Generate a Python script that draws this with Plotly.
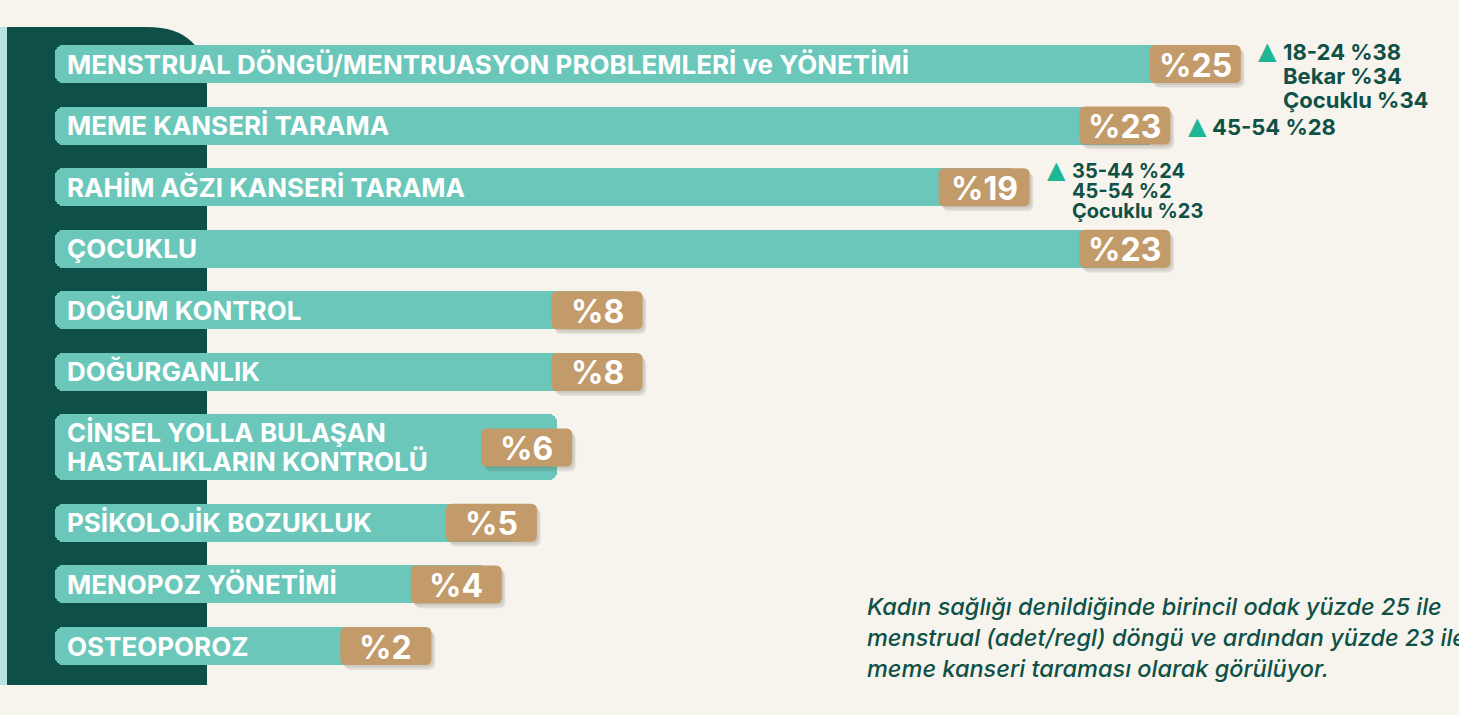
import plotly.graph_objects as go

# veriler
categories = ['MENSTRUAL DÖNGÜ/MENTRUASYON PROBLEMLERİ ve YÖNETİMİ', 'MEME KANSERİ TARAMA',
              'RAHİM AĞZI KANSERİ TARAMA', 'ÇOCUKLU', 'DOĞUM KONTROL', 'DOĞURGANLIK',
              'CİNSEL YOLLA BULAŞAN<br>HASTALIKLARIN KONTROLÜ', 'PSİKOLOJİK BOZUKLUK',
              'MENOPOZ YÖNETİMİ', 'OSTEOPOROZ']
values = [25, 23, 19, 23, 8, 8, 6, 5, 4, 2]

note_rows = [0, 1, 2]
note_lines = [['18-24 %38', 'Bekar %34', 'Çocuklu %34'],
              ['45-54 %28'],
              ['35-44 %24', '45-54 %2', 'Çocuklu %23']]

caption = ['Kadın sağlığı denildiğinde birincil odak yüzde 25 ile',
           'menstrual (adet/regl) döngü ve ardından yüzde 23 ile',
           'meme kanseri taraması olarak görülüyor.']

# stil
W, H = 1459, 715
BG = '#f7f4ee'
PANEL = '#0e5047'
STRIP = '#b7e0de'
BAR = '#6bc7b9'
BADGE = '#c39a6a'
DARK = '#0f5146'
TRI = '#1fb696'
FONT = 'Inter'

row_span = [1, 1, 1, 1, 1, 1, 1.45, 1, 1, 1]
bar_w = [1.07 if s > 1 else 0.615 for s in row_span]
BASE = -8.27

pos = [0.0]
for i in range(1, len(row_span)):
    pos.append(pos[-1] + (row_span[i - 1] + row_span[i]) / 2)


def rounded(x0, y0, x1, y1, r):
    return (f'M {x0 + r},{y0} L {x1 - r},{y0} Q {x1},{y0} {x1},{y0 + r} '
            f'L {x1},{y1 - r} Q {x1},{y1} {x1 - r},{y1} L {x0 + r},{y1} '
            f'Q {x0},{y1} {x0},{y1 - r} L {x0},{y0 + r} Q {x0},{y0} {x0 + r},{y0} Z')


fig = go.Figure()
fig.add_trace(go.Bar(
    y=pos, x=[v - BASE for v in values], base=BASE, orientation='h',
    width=bar_w, marker=dict(color=BAR, cornerradius=8, line_width=0),
    textposition='none', hoverinfo='skip', showlegend=False))

shapes = []
# sol şerit ve koyu yeşil panel
shapes.append(dict(type='rect', xref='paper', yref='paper', x0=0, x1=7 / W,
                   y0=1 - 685 / H, y1=1 - 27 / H, fillcolor=STRIP, line_width=0, layer='below'))
r = 60
panel_path = (f'M 7,-685 L 7,-27 L {207 - r},-27 Q 207,-27 207,{-27 - r} L 207,-685 Z')
shapes.append(dict(type='path', xref='paper', yref='paper', xsizemode='pixel', ysizemode='pixel',
                   xanchor=0, yanchor=1, path=panel_path, fillcolor=PANEL, line_width=0,
                   layer='below'))

annotations = []
for i, (cat, v) in enumerate(zip(categories, values)):
    # yüzde rozeti + yumuşak gölge
    for dx, dy, a in [(4, -5, 0.07), (3, -4, 0.08), (2, -2, 0.08)]:
        shapes.append(dict(type='path', xref='x', yref='y', xsizemode='pixel', ysizemode='pixel',
                           xanchor=v, yanchor=pos[i],
                           path=rounded(-76 + dx, -19 + dy, 15 + dx, 19 + dy, 7),
                           fillcolor=f'rgba(60,50,40,{a})', line_width=0, layer='above'))
    shapes.append(dict(type='path', xref='x', yref='y', xsizemode='pixel', ysizemode='pixel',
                       xanchor=v, yanchor=pos[i], path=rounded(-76, -19, 15, 19, 6),
                       fillcolor=BADGE, line_width=0, layer='above'))
    annotations.append(dict(x=v, y=pos[i], xref='x', yref='y', text=f'%{v}', showarrow=False,
                            xshift=-30.5, yshift=-1,
                            font=dict(family=FONT, size=32, color='white', weight=700)))
    # kategori etiketi (satır satır)
    parts = cat.split('<br>')
    for j, part in enumerate(parts):
        off = (j - (len(parts) - 1) / 2) * 29
        annotations.append(dict(x=BASE, y=pos[i], xref='x', yref='y', text=part, showarrow=False,
                                xanchor='left', xshift=10, yshift=-off,
                                font=dict(family=FONT, size=26, color='white', weight=700)))

note_first = [-12, 1, -16]
note_gap = [24, 24, 20]
note_size = [22, 22, 20]
for k, row in enumerate(note_rows):
    v = values[row]
    annotations.append(dict(x=v, y=pos[row], xref='x', yref='y', text='▲', showarrow=False,
                            xshift=42, yshift=-(note_first[k] - 1),
                            font=dict(family='DejaVu Sans', size=24, color=TRI)))
    for j, line in enumerate(note_lines[k]):
        annotations.append(dict(x=v, y=pos[row], xref='x', yref='y', text=line, showarrow=False,
                                xanchor='left', xshift=55,
                                yshift=-(note_first[k] + j * note_gap[k]),
                                font=dict(family=FONT, size=note_size[k], color=DARK, weight=700)))

for j, line in enumerate(caption):
    annotations.append(dict(x=865 / W, y=1 - (606 + j * 31) / H, xref='paper', yref='paper',
                            text=line, showarrow=False, xanchor='left', yanchor='middle',
                            font=dict(family=FONT, size=23.5, color=DARK, style='italic',
                                      weight=500)))

y_top = -64 / 61.59
y_bot = pos[-1] + (H - 646) / 61.59
x_lo = -346 / 35.19
x_hi = (W - 346) / 35.19

fig.update_layout(
    width=W, height=H, margin=dict(l=0, r=0, t=0, b=0),
    paper_bgcolor=BG, plot_bgcolor='rgba(0,0,0,0)',
    xaxis=dict(range=[x_lo, x_hi], visible=False, fixedrange=True),
    yaxis=dict(range=[y_bot, y_top], visible=False, fixedrange=True),
    shapes=shapes, annotations=annotations, bargap=0,
)

fig.write_html('out.html', config={'displayModeBar': False},
               post_script="document.body.style.margin='0';")
